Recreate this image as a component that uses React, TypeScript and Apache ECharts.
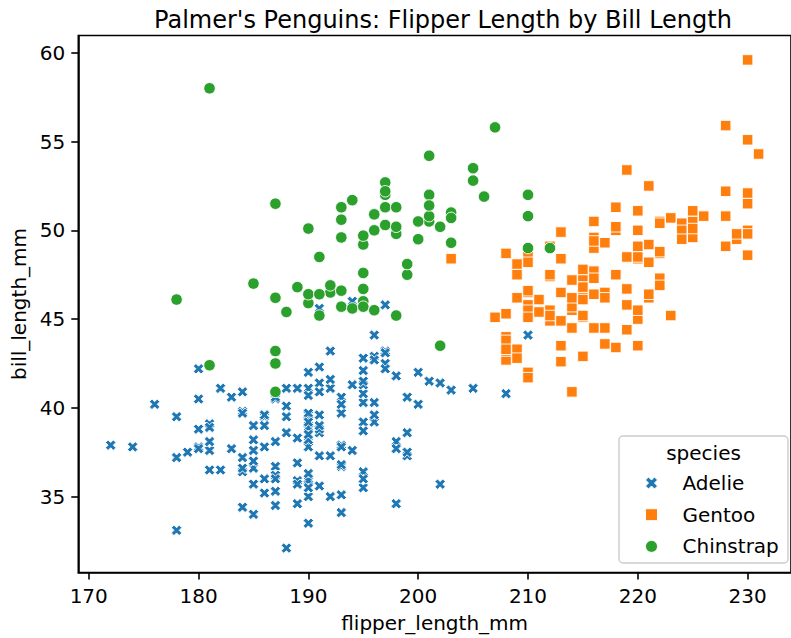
import React, { useEffect, useRef } from "react";
import * as echarts from "echarts";

const FONT = "DejaVu Sans";
const chartTitle = "Palmer's Penguins: Flipper Length by Bill Length";
const xName = "flipper_length_mm";
const yName = "bill_length_mm";
const legendTitle = "species";
const xTicks = [170, 180, 190, 200, 210, 220, 230];
const yTicks = [35, 40, 45, 50, 55, 60];
const speciesNames = ["Adelie", "Gentoo", "Chinstrap"];
const speciesColors = ["#1f77b4", "#ff7f0e", "#2ca02c"];

// [flipper_length_mm, bill_length_mm]
const adelie: [number, number][] = [
  [181, 39.1], [186, 39.5], [195, 40.3], [193, 36.7], [190, 39.3], [181, 38.9], [195, 39.2], [193, 34.1], [190, 42], [186, 37.8],
  [180, 37.8], [182, 41.1], [191, 38.6], [198, 34.6], [185, 36.6], [195, 38.7], [197, 42.5], [184, 34.4], [194, 46],
  [174, 37.8], [180, 37.7], [189, 35.9], [185, 38.2], [180, 38.8], [187, 35.3], [183, 40.6], [187, 40.5], [172, 37.9], [180, 40.5],
  [178, 39.5], [178, 37.2], [188, 39.5], [184, 40.9], [195, 36.4], [196, 39.2], [190, 38.8], [180, 42.2], [181, 37.6], [184, 39.8],
  [182, 36.5], [195, 40.8], [186, 36], [196, 44.1], [185, 37], [190, 39.6], [182, 41.1], [179, 37.5], [190, 36], [191, 42.3],
  [186, 39.6], [188, 40.1], [190, 35], [200, 42], [187, 34.5], [191, 41.4], [186, 39], [193, 40.6], [181, 36.5], [194, 37.6],
  [185, 35.7], [195, 41.3], [185, 37.6], [192, 41.1], [184, 36.4], [192, 41.6], [195, 35.5], [188, 41.1],
  [190, 35.9], [198, 41.8], [190, 33.5], [190, 39.7], [196, 39.6], [197, 45.8], [190, 35.5], [195, 42.8], [191, 40.9], [184, 37.2],
  [187, 36.2], [195, 42.1], [189, 34.6], [196, 42.9], [187, 36.7], [193, 35.1],
  [191, 37.3], [194, 41.3], [190, 36.3], [189, 36.9], [189, 38.3], [190, 38.9], [202, 35.7], [205, 41.1], [185, 34], [186, 39.6],
  [187, 36.2], [208, 40.8], [190, 38.1], [196, 40.3], [178, 33.1], [192, 43.2],
  [192, 35], [203, 41], [183, 37.7], [190, 37.8], [193, 37.9], [184, 39.7], [199, 38.6], [190, 38.2], [181, 38.1], [197, 43.2],
  [198, 38.1], [191, 45.6], [193, 39.7], [197, 42.2], [191, 39.6], [196, 42.7],
  [188, 38.6], [199, 37.3], [189, 35.7], [189, 41.1], [187, 36.2], [198, 37.7], [176, 40.2], [202, 41.4], [186, 35.2], [199, 40.6],
  [191, 38.8], [195, 41.5], [191, 39], [210, 44.1], [190, 38.5], [197, 43.1],
  [193, 36.8], [199, 37.5], [187, 38.1], [190, 41.1], [191, 35.6], [200, 40.2], [185, 37], [193, 39.7], [193, 40.2], [187, 40.6],
  [188, 32.1], [190, 40.7], [192, 37.3], [185, 39], [190, 39.2], [184, 36.6], [195, 36], [193, 37.8], [187, 36], [201, 41.5],
];

const gentoo: [number, number][] = [
  [211, 46.1], [230, 50], [210, 48.7], [218, 50], [215, 47.6], [210, 46.5], [211, 45.4], [219, 46.7], [209, 43.3], [215, 46.8],
  [214, 40.9], [216, 49], [214, 45.5], [213, 48.4], [210, 45.8], [217, 49.3], [210, 42], [221, 49.2], [209, 46.2], [222, 48.7],
  [218, 50.2], [215, 45.1], [213, 46.5], [215, 46.3], [215, 42.9], [215, 46.1], [216, 44.5], [215, 47.8], [210, 48.2], [220, 50],
  [222, 47.3], [209, 42.8], [207, 45.1], [230, 59.6], [220, 49.1], [220, 48.4], [213, 42.6], [219, 44.4], [208, 44], [208, 48.7],
  [208, 42.7], [225, 49.6], [210, 45.3], [216, 49.6], [222, 50.5], [217, 43.6], [210, 45.5], [225, 50.5], [213, 44.9], [215, 45.2],
  [210, 46.6], [220, 48.5], [210, 45.1], [225, 50.1], [217, 46.5], [220, 45], [208, 43.8], [220, 45.5], [208, 43.2], [224, 50.4],
  [208, 45.3], [221, 46.2], [214, 45.7], [231, 54.3], [219, 45.8], [230, 49.8], [214, 46.2], [229, 49.5], [220, 43.5], [223, 50.7],
  [216, 47.7], [221, 46.4], [221, 48.2], [217, 46.5], [216, 46.4], [230, 48.6], [209, 47.5], [220, 51.1], [215, 45.2], [223, 45.2],
  [212, 49.1], [221, 52.5], [212, 47.4], [224, 50], [212, 44.9], [228, 50.8], [218, 43.4], [218, 51.3], [212, 47.5], [230, 52.1],
  [218, 47.5], [228, 52.2], [212, 45.5], [224, 49.5], [214, 44.5], [226, 50.8], [216, 49.4], [222, 46.9], [203, 48.4], [225, 51.1],
  [219, 48.5], [228, 55.9], [215, 47.2], [228, 49.1], [216, 47.3], [215, 46.8], [210, 41.7], [219, 53.4], [208, 43.3], [209, 48.1],
  [216, 50.5], [229, 49.8], [213, 43.5], [230, 51.5], [217, 46.2], [230, 55.1], [217, 44.5], [222, 48.8], [214, 47.2], [215, 46.8],
  [222, 50.4], [212, 45.2], [213, 49.9],
];

const chinstrap: [number, number][] = [
  [192, 46.5], [196, 50], [193, 51.3], [188, 45.4], [197, 52.7], [198, 45.2], [178, 46.1], [197, 51.3], [195, 46], [198, 51.3],
  [193, 46.6], [194, 51.7], [185, 47], [201, 52], [190, 45.9], [201, 50.5], [197, 50.3], [181, 58], [190, 46.4], [195, 49.2],
  [181, 42.4], [191, 48.5], [187, 43.2], [193, 50.6], [195, 46.7], [197, 52], [200, 50.5], [200, 49.5], [191, 46.4], [205, 52.8],
  [187, 40.9], [201, 54.2], [187, 42.5], [203, 51], [195, 49.7], [199, 47.5], [195, 47.6], [210, 52], [192, 46.9], [205, 53.5],
  [210, 49], [187, 46.2], [196, 50.9], [196, 45.5], [196, 50.9], [201, 50.8], [190, 50.1], [212, 49], [187, 51.5], [198, 49.8],
  [199, 48.1], [201, 51.4], [193, 45.7], [203, 50.7], [187, 42.5], [197, 52.2], [191, 45.2], [203, 49.3], [202, 50.2], [194, 45.6],
  [206, 51.9], [189, 46.8], [195, 45.7], [207, 55.8], [202, 43.5], [193, 49.6], [210, 50.8], [198, 50.2],
];

const X_PATH = "path://M1 0L2 1L3 0L4 1L3 2L4 3L3 4L2 3L1 4L0 3L1 2L0 1Z";
const symbols = [X_PATH, "rect", "circle"];
const symbolSizes = [10.5, 10.5, 11.5];
const speciesData = [adelie, gentoo, chinstrap];

export default function App() {
  const ref = useRef<HTMLDivElement>(null);
  useEffect(() => {
    if (!ref.current) return;
    const chart = echarts.init(ref.current, undefined, { renderer: "svg" });
    const axisLineStyle = { color: "#000", width: 1.6 };
    const labelStyle = { fontSize: 20, fontFamily: FONT, color: "#000" };
    chart.setOption({
      animation: false,
      backgroundColor: "#fff",
      title: {
        text: chartTitle,
        left: 438,
        textAlign: "center",
        top: 3,
        textStyle: { fontSize: 24, fontWeight: "normal", color: "#000", fontFamily: FONT },
      },
      grid: {
        left: 78.3,
        top: 35.5,
        width: 720,
        height: 537,
        show: true,
        borderColor: "#000",
        borderWidth: 1.6,
        backgroundColor: "transparent",
      },
      xAxis: {
        type: "value",
        min: 169.05,
        max: 233.95,
        name: xName,
        nameLocation: "middle",
        nameGap: 40,
        nameTextStyle: labelStyle,
        axisLine: { show: true, onZero: false, lineStyle: axisLineStyle },
        axisTick: { show: true, length: 7, customValues: xTicks, lineStyle: axisLineStyle },
        axisLabel: { customValues: xTicks, margin: 13, ...labelStyle },
        splitLine: { show: false },
      },
      yAxis: {
        type: "value",
        min: 30.725,
        max: 60.975,
        name: yName,
        nameLocation: "middle",
        nameGap: 46,
        nameTextStyle: labelStyle,
        axisLine: { show: true, onZero: false, lineStyle: axisLineStyle },
        axisTick: { show: true, length: 7, customValues: yTicks, lineStyle: axisLineStyle },
        axisLabel: { customValues: yTicks, margin: 13, ...labelStyle },
        splitLine: { show: false },
      },
      legend: {
        orient: "vertical",
        left: 640,
        top: 468,
        itemWidth: 12,
        itemHeight: 12,
        itemGap: 11.7,
        z: 6,
        data: speciesNames.map((n, i) => ({ name: n, icon: symbols[i] })),
        textStyle: { ...labelStyle, lineHeight: 20, padding: [0, 0, 0, 20] },
        itemStyle: { borderColor: "#fff", borderWidth: 1 },
      },
      graphic: [
        {
          type: "rect",
          z: 5,
          shape: { x: 619, y: 436, width: 169, height: 127, r: 4 },
          style: { fill: "rgba(255,255,255,0.8)", stroke: "#cccccc", lineWidth: 1.4 },
        },
        {
          type: "text",
          z: 6,
          x: 703.5,
          y: 453,
          style: {
            text: legendTitle,
            font: `20px '${FONT}'`,
            fill: "#000",
            textAlign: "center",
            textVerticalAlign: "middle",
          },
        },
      ],
      series: speciesNames.map((n, i) => ({
        name: n,
        type: "scatter",
        data: speciesData[i],
        symbol: symbols[i],
        symbolSize: symbolSizes[i],
        itemStyle: { color: speciesColors[i], borderColor: "#fff", borderWidth: 0.9, opacity: 1 },
        emphasis: { disabled: true },
      })),
    });
    return () => chart.dispose();
  }, []);
  return (
    <div
      ref={ref}
      style={{ position: "fixed", left: 0, top: 0, width: 791, height: 638, background: "#fff" }}
    />
  );
}
